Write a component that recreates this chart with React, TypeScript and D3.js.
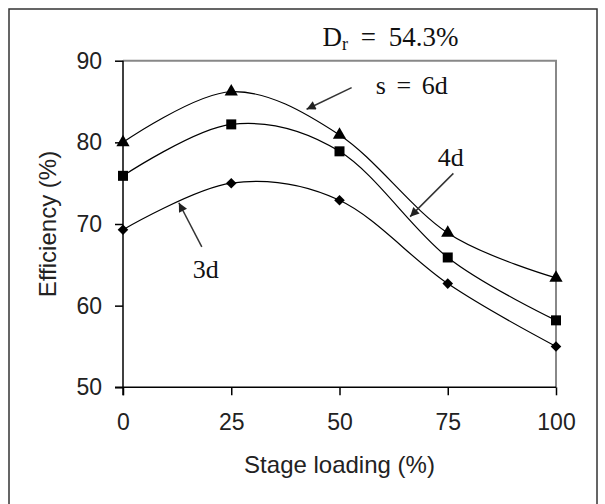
import React, { useRef, useEffect } from 'react';
import * as d3 from 'd3';

// stage loading (%) on x
const loading = [0, 25, 50, 75, 100];
// efficiency (%) for each spacing
const eff6d = [80, 86.2, 80.9, 68.9, 63.4];
const eff4d = [75.9, 82.2, 78.9, 65.9, 58.2];
const eff3d = [69.3, 75.0, 72.9, 62.7, 55.0];

const yTicks = [50, 60, 70, 80, 90];
const xTicks = [0, 25, 50, 75, 100];

const seriesList = [
    { name: 's = 6d', values: eff6d, marker: 'triangle' },
    { name: '4d', values: eff4d, marker: 'square' },
    { name: '3d', values: eff3d, marker: 'diamond' },
];

// annotation arrows in data units: [tailX, tailY, tipX, tipY]
const arrows = [
    [52.8, 86.7, 42.4, 84.05],
    [76.3, 76.2, 66.3, 70.9],
    [18.2, 67.2, 12.9, 72.6],
];
// labels next to the arrows: [text, x, y]
const curveLabels: [string, number, number][] = [
    ['s = 6d', 58.4, 85.9],
    ['4d', 72.7, 77.1],
    ['3d', 16.1, 63.4],
];

export default function App() {
    const svg_ref = useRef(null);

    useEffect(() => {
        const svg = d3.select(svg_ref.current);
        svg.selectAll('*').remove();

        const width = 605;
        const height = 504;
        const margin = { left: 123, right: 49, top: 60.7, bottom: 116.7 };

        const x = d3.scaleLinear([0, 100], [margin.left, width - margin.right]);
        const y = d3.scaleLinear([50, 90], [height - margin.bottom, margin.top]);

        // outer frame
        svg.append('rect')
            .attr('x', 9)
            .attr('y', 9)
            .attr('width', 588)
            .attr('height', 510)
            .attr('fill', 'none')
            .attr('stroke', '#333')
            .attr('stroke-width', 1.5);

        // grey plot frame (top and right)
        svg.append('path')
            .attr('d', `M${x(0)},${y(90)}H${x(100)}V${y(50)}`)
            .attr('fill', 'none')
            .attr('stroke', '#888')
            .attr('stroke-width', 2);

        const sans = 'Liberation Sans, Arial, sans-serif';
        const serif = 'Liberation Serif, Times New Roman, serif';

        const y_axis = (g) =>
            g
                .attr('transform', `translate(${x(0)},0)`)
                .call(d3.axisLeft(y).tickValues(yTicks).tickSize(8).tickPadding(13).tickSizeOuter(0))
                .call((g) => g.select('.domain').attr('d', `M0,${y(90)}V${y(50) + 8}`))
                .call((g) => g.selectAll('line').attr('stroke-width', 1.5))
                .call((g) => g.selectAll('text').attr('font-family', sans).attr('font-size', 23).attr('fill', '#222'));

        const x_axis = (g) =>
            g
                .attr('transform', `translate(0,${y(50)})`)
                .call(d3.axisBottom(x).tickValues(xTicks).tickSize(8).tickPadding(18).tickSizeOuter(0))
                .call((g) => g.select('.domain').attr('d', `M${x(0) - 8},0H${x(100)}`))
                .call((g) => g.selectAll('line').attr('stroke-width', 1.5))
                .call((g) => g.selectAll('text').attr('font-family', sans).attr('font-size', 23).attr('fill', '#222'));

        svg.append('g').call(x_axis).select('.domain').attr('stroke-width', 1.5);
        svg.append('g').call(y_axis).select('.domain').attr('stroke-width', 1.5);

        svg.append('text')
            .attr('x', (x(0) + x(100)) / 2)
            .attr('y', 473)
            .attr('text-anchor', 'middle')
            .attr('font-family', sans)
            .attr('font-size', 24)
            .attr('fill', '#222')
            .text('Stage loading (%)');

        svg.append('text')
            .attr('transform', `translate(56,${(y(50) + y(90)) / 2}) rotate(-90)`)
            .attr('text-anchor', 'middle')
            .attr('font-family', sans)
            .attr('font-size', 24)
            .attr('fill', '#222')
            .text('Efficiency (%)');

        const line = d3
            .line()
            .x((_, i) => x(loading[i]))
            .y((d) => y(d))
            .curve(d3.curveCatmullRom.alpha(0));

        const symbols = {
            triangle: d3.symbol(d3.symbolTriangle, 76)(),
            square: d3.symbol(d3.symbolSquare, 100)(),
            diamond: d3.symbol(d3.symbolSquare, 56)(),
        };

        seriesList.forEach((s) => {
            svg.append('path')
                .datum(s.values)
                .attr('fill', 'none')
                .attr('stroke', '#000')
                .attr('stroke-width', 1.2)
                .attr('d', line);

            svg.append('g')
                .selectAll('path')
                .data(s.values)
                .join('path')
                .attr('d', symbols[s.marker])
                .attr('fill', '#000')
                .attr('transform', (d, i) =>
                    `translate(${x(loading[i])},${y(d)})` + (s.marker === 'diamond' ? ' rotate(45)' : '')
                );
        });

        // arrowheads
        svg.append('defs')
            .append('marker')
            .attr('id', 'head')
            .attr('viewBox', '0 0 10 10')
            .attr('refX', 10)
            .attr('refY', 5)
            .attr('markerWidth', 14)
            .attr('markerHeight', 9)
            .attr('markerUnits', 'userSpaceOnUse')
            .attr('orient', 'auto')
            .append('path')
            .attr('d', 'M0,0L10,5L0,10Z')
            .attr('fill', '#222');

        svg.append('g')
            .selectAll('line')
            .data(arrows)
            .join('line')
            .attr('x1', (d) => x(d[0]))
            .attr('y1', (d) => y(d[1]))
            .attr('x2', (d) => x(d[2]))
            .attr('y2', (d) => y(d[3]))
            .attr('stroke', '#333')
            .attr('stroke-width', 1.5)
            .attr('marker-end', 'url(#head)');

        svg.append('g')
            .selectAll('text')
            .data(curveLabels)
            .join('text')
            .attr('x', (d) => x(d[1]))
            .attr('y', (d) => y(d[2]))
            .attr('font-family', serif)
            .attr('font-size', 26)
            .attr('word-spacing', 4)
            .attr('fill', '#111')
            .text((d) => d[0]);

        // relative density note
        const title = svg.append('text')
            .attr('x', x(46.1))
            .attr('y', 46)
            .attr('font-family', serif)
            .attr('font-size', 27)
            .attr('word-spacing', 6)
            .attr('fill', '#111');
        title.append('tspan').text('D');
        title.append('tspan').attr('font-size', 18).attr('dy', 4).text('r');
        title.append('tspan').attr('dy', -4).text(' = 54.3%');
    }, []);

    return (
        <svg
            ref={svg_ref}
            width={605}
            height={504}
            style={{ position: 'absolute', left: 0, top: 0, background: '#fff' }}
        ></svg>
    );
}
